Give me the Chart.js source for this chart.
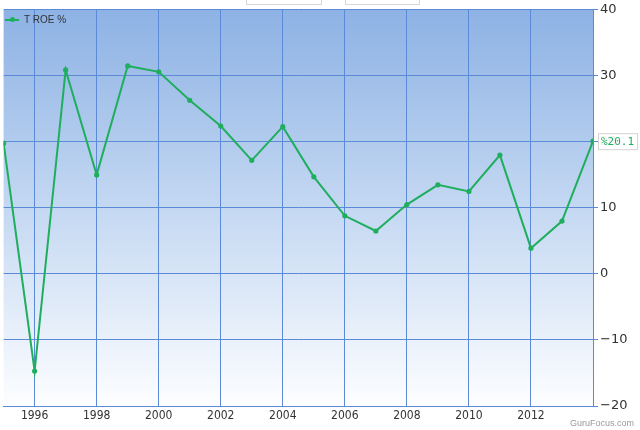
<!DOCTYPE html>
<html>
<head>
<meta charset="utf-8">
<script src="https://cdn.jsdelivr.net/npm/chart.js@4/dist/chart.umd.min.js"></script>
<style>
  html,body{margin:0;padding:0;background:#fff;}
  #wrap{position:relative;width:640px;height:430px;font-family:"DejaVu Sans",sans-serif;}
  canvas{position:absolute;left:0;top:0;}
  .legend{position:absolute;left:5px;top:14px;font-size:10px;color:#333;font-family:"Liberation Sans",sans-serif;display:flex;align-items:center;}
  .legend .mk{position:relative;width:14px;height:2px;background:#1fae5e;margin-right:5px;}
  .legend .mk:after{content:"";position:absolute;left:5px;top:-1.5px;width:5px;height:5px;border-radius:50%;background:#1fae5e;}
  .wm{position:absolute;right:6px;top:418px;font-size:9px;color:#999;font-family:"Liberation Sans",sans-serif;}
  .topbox{position:absolute;top:-4px;height:8px;border:1px solid #d8d8d8;border-top:none;background:#fff;}
</style>
</head>
<body>
<div id="wrap">
  <canvas id="c" width="640" height="430"></canvas>
  <div class="topbox" style="left:246px;width:74px;"></div>
  <div class="topbox" style="left:345px;width:73px;"></div>
  <div class="legend"><span class="mk"></span>T ROE %</div>
  <div class="wm">GuruFocus.com</div>
</div>
<script>
const years = [1995,1996,1997,1998,1999,2000,2001,2002,2003,2004,2005,2006,2007,2008,2009,2010,2011,2012,2013,2014];
const roe   = [19.8,-14.7,30.9,15.0,31.5,30.6,26.3,22.4,17.2,22.3,14.7,8.8,6.5,10.5,13.5,12.5,18.0,3.9,8.0,20.1];
const xTickYears = [1996,1998,2000,2002,2004,2006,2008,2010,2012];
const yTicks = [-20,-10,0,10,20,30,40];
const lastLabel = "%20.1";

const lineColor = '#1fae5e';
const gridColor = '#5a8ad8';

const bgPlugin = {
  id:'bg',
  beforeDraw(chart){
    const {ctx, chartArea:a} = chart;
    const g = ctx.createLinearGradient(0,a.top,0,a.bottom);
    g.addColorStop(0,'#8db2e4');
    g.addColorStop(0.5,'#c4d8f2');
    g.addColorStop(1,'#fdfeff');
    ctx.save();
    ctx.fillStyle = g;
    ctx.fillRect(a.left,a.top,a.right-a.left,a.bottom-a.top);
    ctx.restore();
  },
  afterDatasetsDraw(chart){
    const {ctx} = chart;
    const meta = chart.getDatasetMeta(0);
    const p = meta.data[meta.data.length-1];
    ctx.save();
    ctx.font = '11px "DejaVu Sans Mono", monospace';
    const w = ctx.measureText(lastLabel).width + 6;
    const bx = p.x + 5, by = p.y - 8;
    ctx.fillStyle = 'rgba(255,255,255,0.92)';
    ctx.fillRect(bx, by, w, 16);
    ctx.strokeStyle = '#d4d4d4';
    ctx.lineWidth = 1;
    ctx.strokeRect(bx+0.5, by+0.5, w, 16);
    ctx.fillStyle = lineColor;
    ctx.textBaseline = 'middle';
    ctx.fillText(lastLabel, bx+3, by+8.5);
    ctx.restore();
  }
};

new Chart(document.getElementById('c'), {
  type:'line',
  data:{
    datasets:[{
      label:'T ROE %',
      data: years.map((y,i)=>({x:y,y:roe[i]})),
      borderColor: lineColor,
      backgroundColor: lineColor,
      borderWidth: 2,
      pointRadius: 1.6,
      pointHoverRadius: 1.6,
      tension: 0,
      fill:false
    }]
  },
  options:{
    responsive:false,
    animation:false,
    events:[],
    layout:{padding:{left:3.5,top:9.5,right:0,bottom:0}},
    plugins:{legend:{display:false},tooltip:{enabled:false}},
    scales:{
      x:{
        type:'linear',
        min:years[0], max:years[years.length-1],
        afterBuildTicks(s){ s.ticks = xTickYears.map(v=>({value:v})); },
        afterFit(s){ s.height = 24; },
        grid:{color:gridColor, lineWidth:1, drawTicks:false},
        border:{color:gridColor, width:1},
        ticks:{
          color:'#333', padding:3,
          font:{family:'"DejaVu Sans Condensed","DejaVu Sans",sans-serif', size:12},
          callback:v=>String(v), maxRotation:0, autoSkip:false
        }
      },
      y:{
        position:'right',
        min:-20, max:40,
        afterBuildTicks(s){ s.ticks = yTicks.map(v=>({value:v})); },
        afterFit(s){ s.width = 47; },
        grid:{color:gridColor, lineWidth:1, drawTicks:true, tickLength:5, tickColor:gridColor},
        border:{color:gridColor, width:1},
        ticks:{
          color:'#333', padding:2,
          font:{family:'"DejaVu Sans",sans-serif', size:13},
          callback:v=>String(v).replace('-', '\u2212')
        }
      }
    }
  },
  plugins:[bgPlugin]
});
</script>
</body>
</html>
